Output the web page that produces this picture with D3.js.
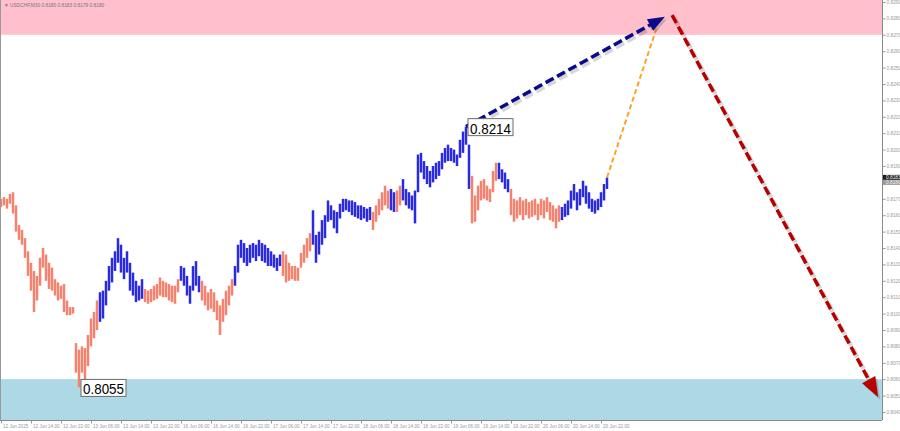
<!DOCTYPE html>
<html><head><meta charset="utf-8">
<script src="https://cdn.jsdelivr.net/npm/d3@7"></script>
<style>html,body{margin:0;padding:0;background:#fff;overflow:hidden}</style>
</head><body>
<svg id="c" width="900" height="431"></svg>
<script>
// ---------------- DATA ----------------
const title = "USDCHF,M30  0.8180 0.8183 0.8179 0.8180";

const highs = [
0.8170,0.8171,0.8170,0.8173,0.8174,0.8166,0.8154,0.8151,0.8146,0.8138,
0.8131,0.8126,0.8123,0.8134,0.8140,0.8136,0.8131,0.8128,0.8121,0.8119,
0.8117,0.8118,0.8108,0.8104,0.8104,0.8082,0.8078,0.8080,0.8079,0.8087,
0.8097,0.8101,0.8108,0.8113,0.8114,0.8120,0.8129,0.8134,0.8138,0.8146,
0.8142,0.8134,0.8138,0.8131,0.8125,0.8120,0.8117,0.8121,0.8115,0.8114,
0.8115,0.8117,0.8118,0.8122,0.8120,0.8119,0.8118,0.8117,0.8117,0.8121,
0.8129,0.8128,0.8123,0.8117,0.8129,0.8132,0.8123,0.8120,0.8117,0.8113,
0.8115,0.8113,0.8108,0.8105,0.8109,0.8114,0.8117,0.8121,0.8129,0.8142,
0.8145,0.8143,0.8140,0.8142,0.8143,0.8142,0.8145,0.8143,0.8142,0.8140,
0.8138,0.8136,0.8134,0.8136,0.8138,0.8136,0.8131,0.8129,0.8129,0.8128,
0.8137,0.8142,0.8146,0.8149,0.8163,0.8148,0.8150,0.8157,0.8160,0.8169,
0.8166,0.8163,0.8162,0.8167,0.8170,0.8170,0.8169,0.8169,0.8168,0.8166,
0.8166,0.8165,0.8164,0.8165,0.8162,0.8166,0.8170,0.8174,0.8178,0.8175,
0.8176,0.8174,0.8175,0.8178,0.8182,0.8176,0.8174,0.8172,0.8175,0.8197,
0.8198,0.8193,0.8190,0.8187,0.8190,0.8192,0.8193,0.8198,0.8201,0.8203,
0.8201,0.8200,0.8197,0.8206,0.8211,0.8214,0.8203,0.8184,0.8172,0.8178,
0.8181,0.8182,0.8178,0.8176,0.8187,0.8192,0.8192,0.8188,0.8186,0.8182,
0.8176,0.8170,0.8169,0.8171,0.8169,0.8170,0.8168,0.8169,0.8170,0.8167,
0.8170,0.8169,0.8171,0.8168,0.8166,0.8164,0.8166,0.8165,0.8167,0.8169,
0.8175,0.8179,0.8174,0.8176,0.8181,0.8178,0.8174,0.8170,0.8169,0.8170,
0.8174,0.8179,0.8183];

const lows = [
0.8165,0.8166,0.8164,0.8167,0.8161,0.8150,0.8145,0.8142,0.8134,0.8123,
0.8114,0.8101,0.8108,0.8117,0.8128,0.8120,0.8115,0.8114,0.8111,0.8108,
0.8109,0.8101,0.8099,0.8099,0.8100,0.8064,0.8055,0.8064,0.8059,0.8068,
0.8080,0.8085,0.8090,0.8095,0.8097,0.8105,0.8114,0.8119,0.8126,0.8131,
0.8125,0.8121,0.8125,0.8114,0.8111,0.8107,0.8108,0.8109,0.8107,0.8106,
0.8107,0.8108,0.8109,0.8111,0.8110,0.8110,0.8108,0.8107,0.8106,0.8113,
0.8120,0.8117,0.8111,0.8106,0.8114,0.8117,0.8113,0.8108,0.8105,0.8102,
0.8103,0.8101,0.8096,0.8087,0.8095,0.8099,0.8105,0.8111,0.8117,0.8125,
0.8134,0.8131,0.8129,0.8131,0.8134,0.8132,0.8135,0.8132,0.8131,0.8129,
0.8129,0.8128,0.8126,0.8129,0.8123,0.8119,0.8120,0.8121,0.8120,0.8120,
0.8128,0.8131,0.8134,0.8138,0.8142,0.8131,0.8136,0.8142,0.8146,0.8156,
0.8157,0.8152,0.8149,0.8158,0.8162,0.8163,0.8162,0.8160,0.8159,0.8158,
0.8157,0.8158,0.8156,0.8157,0.8151,0.8156,0.8160,0.8163,0.8166,0.8164,
0.8163,0.8162,0.8162,0.8166,0.8169,0.8166,0.8164,0.8163,0.8155,0.8174,
0.8186,0.8182,0.8179,0.8177,0.8180,0.8182,0.8184,0.8188,0.8192,0.8193,
0.8193,0.8192,0.8190,0.8195,0.8198,0.8203,0.8176,0.8155,0.8156,0.8163,
0.8169,0.8170,0.8169,0.8168,0.8174,0.8181,0.8182,0.8180,0.8176,0.8174,
0.8160,0.8156,0.8158,0.8160,0.8157,0.8160,0.8158,0.8159,0.8160,0.8157,
0.8160,0.8158,0.8162,0.8157,0.8156,0.8152,0.8156,0.8157,0.8159,0.8160,
0.8164,0.8169,0.8163,0.8166,0.8171,0.8167,0.8164,0.8162,0.8161,0.8163,
0.8165,0.8169,0.8176];

// wave segments (bar index where a wave starts, and its direction)
const waveStarts = [0,33,48,60,67,78,94,104,124,130,132,134,157,166,170,187];
const waveDirs   = ['down','up','down','up','down','up','down','up','down','up','down','up','down','up','down','up'];

const yTicks = [0.8040,0.8050,0.8060,0.8070,0.8080,0.8090,0.8100,0.8110,0.8120,0.8130,
                0.8140,0.8150,0.8160,0.8170,0.8180,0.8190,0.8200,0.8210,0.8220,0.8230,
                0.8240,0.8250,0.8260,0.8270,0.8280,0.8290];
const xTickIndex = [0,10,20,30,40,50,60,70,80,90,100,110,120,130,140,150,160,170,180,190,200];
const xTickLabels = ["12 Jun 2025","12 Jun 14:00","12 Jun 22:00","13 Jun 06:00","13 Jun 14:00",
  "13 Jun 22:00","16 Jun 06:00","16 Jun 14:00","16 Jun 22:00","17 Jun 06:00","17 Jun 14:00",
  "17 Jun 22:00","18 Jun 06:00","18 Jun 14:00","18 Jun 22:00","19 Jun 06:00","19 Jun 14:00",
  "19 Jun 22:00","20 Jun 06:00","20 Jun 14:00","20 Jun 22:00"];

const resistanceZone = [0.8270, 0.8300];
const supportZone = [0.8030, 0.8060];
const askPrice = 0.8183, bidPrice = 0.8180;

const markHigh = {i:155, p:0.8214, label:"0.8214"};
const markLow  = {i:26,  p:0.8055, label:"0.8055"};

const forecastUp   = [[155, 0.8214], [221.3, 0.8281]];
const forecastCorr = [[202, 0.8183], [218.7, 0.8275]];
const forecastDown = [[223.7, 0.8282], [292.4, 0.8049]];

// ---------------- CHART ----------------
const plotR = 882, plotB = 420;
const FONT = 'Liberation Sans, Arial, sans-serif';
const svg = d3.select('#c');
const x = d3.scaleLinear().domain([0, 293]).range([1, 880]);
const y = d3.scaleLinear().domain([0.8040, 0.8290]).range([412, 2]);

svg.append('defs').append('clipPath').attr('id','clip')
  .append('rect').attr('x',0).attr('y',0).attr('width',plotR).attr('height',plotB);
const plot = svg.append('g').attr('clip-path','url(#clip)');

// zones
plot.append('rect').attr('x',0).attr('width',plotR)
  .attr('y', y(resistanceZone[1])).attr('height', y(resistanceZone[0]) - y(resistanceZone[1]))
  .attr('fill','#ffc0cb');
plot.append('rect').attr('x',0).attr('width',plotR)
  .attr('y', y(supportZone[1])).attr('height', y(supportZone[0]) - y(supportZone[1]))
  .attr('fill','#add8e6');

// bars
const colorFor = i => {
  let k = 0;
  for (let j = 0; j < waveStarts.length; j++) if (i >= waveStarts[j]) k = j;
  return waveDirs[k] === 'up' ? '#2a2ae0' : '#f4826f';
};
plot.append('g').selectAll('line').data(highs).join('line')
  .attr('x1',(d,i)=>x(i)).attr('x2',(d,i)=>x(i))
  .attr('y1',d=>y(d)).attr('y2',(d,i)=>y(lows[i]))
  .attr('stroke',(d,i)=>colorFor(i)).attr('stroke-width',2.5);

// arrows
function arrow(pts, color, width, dash, headLen, headW, shadow) {
  const [a,b] = pts;
  const x1=x(a[0]), y1=y(a[1]), x2=x(b[0]), y2=y(b[1]);
  const dx=x2-x1, dy=y2-y1, L=Math.hypot(dx,dy), ux=dx/L, uy=dy/L;
  const ex = headLen ? x2-ux*headLen*0.8 : x2, ey = headLen ? y2-uy*headLen*0.8 : y2;
  const g = plot.append('g');
  if (shadow) {
    g.append('line').attr('x1',x1+2).attr('y1',y1+2.5).attr('x2',ex+2).attr('y2',ey+2.5)
      .attr('stroke','rgba(0,0,0,0.16)').attr('stroke-width',width+1).attr('stroke-dasharray',dash);
  }
  g.append('line').attr('x1',x1).attr('y1',y1).attr('x2',ex).attr('y2',ey)
    .attr('stroke',color).attr('stroke-width',width).attr('stroke-dasharray',dash);
  if (headLen) {
    const bx=x2-ux*headLen, by=y2-uy*headLen, px=-uy, py=ux;
    const tri = [[x2,y2],[bx+px*headW/2,by+py*headW/2],[bx-px*headW/2,by-py*headW/2]];
    if (shadow) g.append('polygon').attr('points',tri.map(p=>[p[0]+2,p[1]+2.5].join(',')).join(' '))
      .attr('fill','rgba(0,0,0,0.16)');
    g.append('polygon').attr('points',tri.map(p=>p.join(',')).join(' ')).attr('fill',color);
  }
}
arrow(forecastCorr, '#ffa028', 2, '5,3', 0, 0, false);
arrow(forecastUp, '#0a0a8c', 3.5, '9,4', 17, 13, true);
arrow(forecastDown, '#b80000', 3.5, '9,4', 20, 15, true);

// labels
function mark(m) {
  const px = x(m.i), py = y(m.p);
  const g = svg.append('g');
  g.append('rect').attr('x',px+2).attr('y',py-8).attr('width',45).attr('height',17)
    .attr('fill','#fff').attr('stroke','#6b6b6b').attr('stroke-width',1);
  g.append('text').attr('x',px+4).attr('y',py+7).text(m.label)
    .attr('font-family',FONT).attr('font-size',15.5)
    .attr('textLength',41).attr('lengthAdjust','spacingAndGlyphs').attr('fill','#000');
}
mark(markHigh); mark(markLow);

// frame lines
svg.append('line').attr('x1',0.5).attr('x2',0.5).attr('y1',0).attr('y2',plotB).attr('stroke','#999');
svg.append('line').attr('x1',0).attr('x2',plotR).attr('y1',plotB+0.5).attr('y2',plotB+0.5).attr('stroke','#888');
svg.append('line').attr('x1',plotR+0.5).attr('x2',plotR+0.5).attr('y1',0).attr('y2',plotB).attr('stroke','#888');

// right axis
const ya = svg.append('g').attr('transform',`translate(${plotR+0.5},0)`)
  .call(d3.axisRight(y).tickValues(yTicks).tickSize(3).tickPadding(1).tickFormat(d3.format('.4f')));
ya.select('.domain').remove();
ya.selectAll('line').attr('stroke','#999');
ya.selectAll('text').attr('font-family',FONT).attr('font-size',4.8).attr('fill','#999');

// price labels
const pl = svg.append('g');
pl.append('rect').attr('x',plotR+1).attr('y',y(askPrice)-2.6).attr('width',18).attr('height',5).attr('fill','#1a1a1a');
pl.append('text').attr('x',plotR+4).attr('y',y(askPrice)+1.6).text(d3.format('.4f')(askPrice))
  .attr('font-family',FONT).attr('font-size',4.8).attr('fill','#fff');
pl.append('rect').attr('x',plotR+1).attr('y',y(askPrice)+2.4).attr('width',18).attr('height',5).attr('fill','#9a9a9a');
pl.append('text').attr('x',plotR+4).attr('y',y(askPrice)+6.6).text(d3.format('.4f')(bidPrice))
  .attr('font-family',FONT).attr('font-size',4.8).attr('fill','#eee');

// bottom axis
const xa = svg.append('g').attr('transform',`translate(0,${plotB+0.5})`)
  .call(d3.axisBottom(x).tickValues(xTickIndex).tickSize(3).tickPadding(1).tickFormat((d,i)=>xTickLabels[i]));
xa.select('.domain').remove();
xa.selectAll('line').attr('stroke','#999');
xa.selectAll('text').attr('text-anchor','start').attr('dx',1.5)
  .attr('font-family',FONT).attr('font-size',4.6).attr('fill','#999');

// title
svg.append('text').attr('x',4).attr('y',6.5).text('\u25BC  ' + title)
  .attr('font-family',FONT).attr('font-size',4.8).attr('fill','#777');
</script>
</body></html>
